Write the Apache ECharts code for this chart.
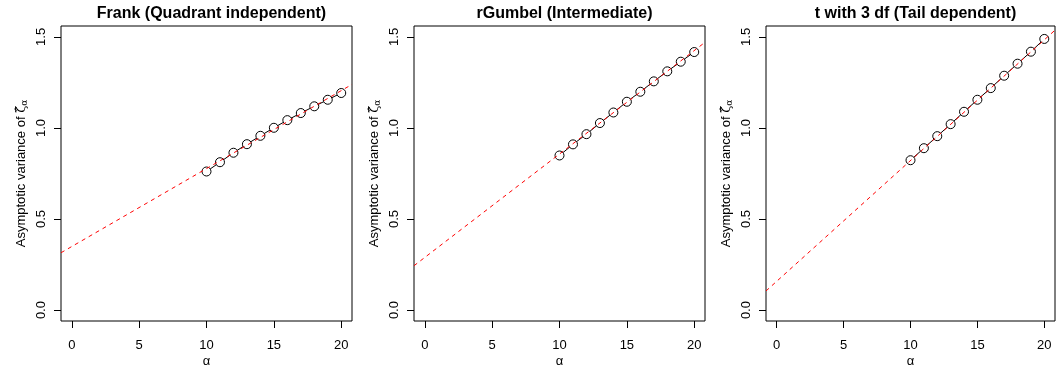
<!DOCTYPE html>
<html>
<head>
<meta charset="utf-8">
<script src="https://cdn.jsdelivr.net/npm/echarts@6/dist/echarts.min.js"></script>
<style>
  html, body { margin: 0; padding: 0; background: #ffffff; }
  #chart { width: 1056px; height: 371px; }
</style>
</head>
<body>
<div id="chart"></div>
<script>
// alpha values shared by all three panels
const alphas = [10, 11, 12, 13, 14, 15, 16, 17, 18, 19, 20];

const panelTitles = ['Frank (Quadrant independent)', 'rGumbel (Intermediate)', 't with 3 df (Tail dependent)'];

// asymptotic variance
const frankVar = [0.761, 0.812, 0.864, 0.911, 0.957, 1.001, 1.043, 1.082, 1.119, 1.155, 1.192];
const gumbelVar = [0.849, 0.910, 0.966, 1.027, 1.085, 1.144, 1.199, 1.256, 1.311, 1.364, 1.417];
const tVar = [0.823, 0.889, 0.955, 1.021, 1.089, 1.155, 1.219, 1.287, 1.353, 1.419, 1.489];

// red dashed fitted lines (intercept, slope)
const fitIntercepts = [0.349, 0.289, 0.158];
const fitSlopes = [0.0428, 0.0568, 0.0663];

const xTicks = [0, 5, 10, 15, 20];
const yTicks = [0, 0.5, 1.0, 1.5];

const FONT = '"Liberation Sans", Arial, Helvetica, sans-serif';
const X_MIN = -0.8, X_MAX = 20.8;
const Y_MIN = -0.06, Y_MAX = 1.56;

const gridLefts = [61, 414, 766];
const gridWidths = [291, 291, 289];

const seriesValues = [frankVar, gumbelVar, tVar];

const chart = echarts.init(document.getElementById('chart'), null, { renderer: 'canvas' });

const grids = [], xAxes = [], yAxes = [], series = [], titles = [];

gridLefts.forEach((left, i) => {
  const w = gridWidths[i];
  grids.push({
    left: left, top: 26, width: w, bottom: 50,
    outerBoundsMode: 'none',
    show: true, borderColor: '#000', borderWidth: 1, backgroundColor: 'transparent'
  });

  titles.push({
    text: panelTitles[i],
    left: left + w / 2,
    top: 1,
    textAlign: 'center',
    textStyle: { fontFamily: FONT, fontSize: 16, fontWeight: 'bold', color: '#000' }
  });

  xAxes.push({
    gridIndex: i, type: 'value', min: X_MIN, max: X_MAX,
    name: 'α', nameLocation: 'middle', nameGap: 34, nameMoveOverlap: false,
    nameTextStyle: { fontFamily: FONT, fontSize: 13, color: '#000' },
    axisLine: { show: false, onZero: false },
    axisTick: { show: true, length: 7, lineStyle: { color: '#000' }, customValues: xTicks },
    axisLabel: { fontFamily: FONT, fontSize: 13, color: '#000', margin: 18, customValues: xTicks },
    splitLine: { show: false }
  });

  yAxes.push({
    gridIndex: i, type: 'value', min: Y_MIN, max: Y_MAX,
    name: '{a|Asymptotic variance of }{z|ζ̂}{s|α}',
    nameLocation: 'middle', nameGap: 32, nameRotate: 90, nameMoveOverlap: false,
    nameTextStyle: {
      fontFamily: FONT, fontSize: 13, color: '#000',
      rich: {
        a: { fontFamily: FONT, fontSize: 13, color: '#000' },
        z: { fontFamily: 'DejaVu Serif, serif', fontSize: 13, color: '#000' },
        s: { fontFamily: 'DejaVu Serif, serif', fontSize: 9, color: '#000', padding: [6, 0, 0, 0] }
      }
    },
    axisLine: { show: false, onZero: false },
    axisTick: { show: true, length: 7, lineStyle: { color: '#000' }, customValues: yTicks },
    axisLabel: {
      fontFamily: FONT, fontSize: 13, color: '#000', rotate: 90, margin: 13,
      customValues: yTicks,
      formatter: v => v.toFixed(1)
    },
    splitLine: { show: false }
  });

  series.push({
    type: 'line',
    xAxisIndex: i, yAxisIndex: i,
    data: alphas.map((a, k) => [a, seriesValues[i][k]]),
    symbol: 'circle', symbolSize: 9, showSymbol: true,
    itemStyle: { color: '#fff', borderColor: '#000', borderWidth: 1 },
    lineStyle: { color: '#000', width: 1 },
    silent: true, animation: false, z: 2
  });

  const a0 = fitIntercepts[i], b = fitSlopes[i];
  series.push({
    type: 'line',
    xAxisIndex: i, yAxisIndex: i,
    data: [[X_MIN, a0 + b * X_MIN], [X_MAX, a0 + b * X_MAX]],
    symbol: 'none', clip: true,
    lineStyle: { color: '#ff0000', width: 1, type: [4, 4] },
    silent: true, animation: false, z: 5
  });
});

chart.setOption({
  animation: false,
  title: titles,
  grid: grids,
  xAxis: xAxes,
  yAxis: yAxes,
  series: series
});
</script>
</body>
</html>
